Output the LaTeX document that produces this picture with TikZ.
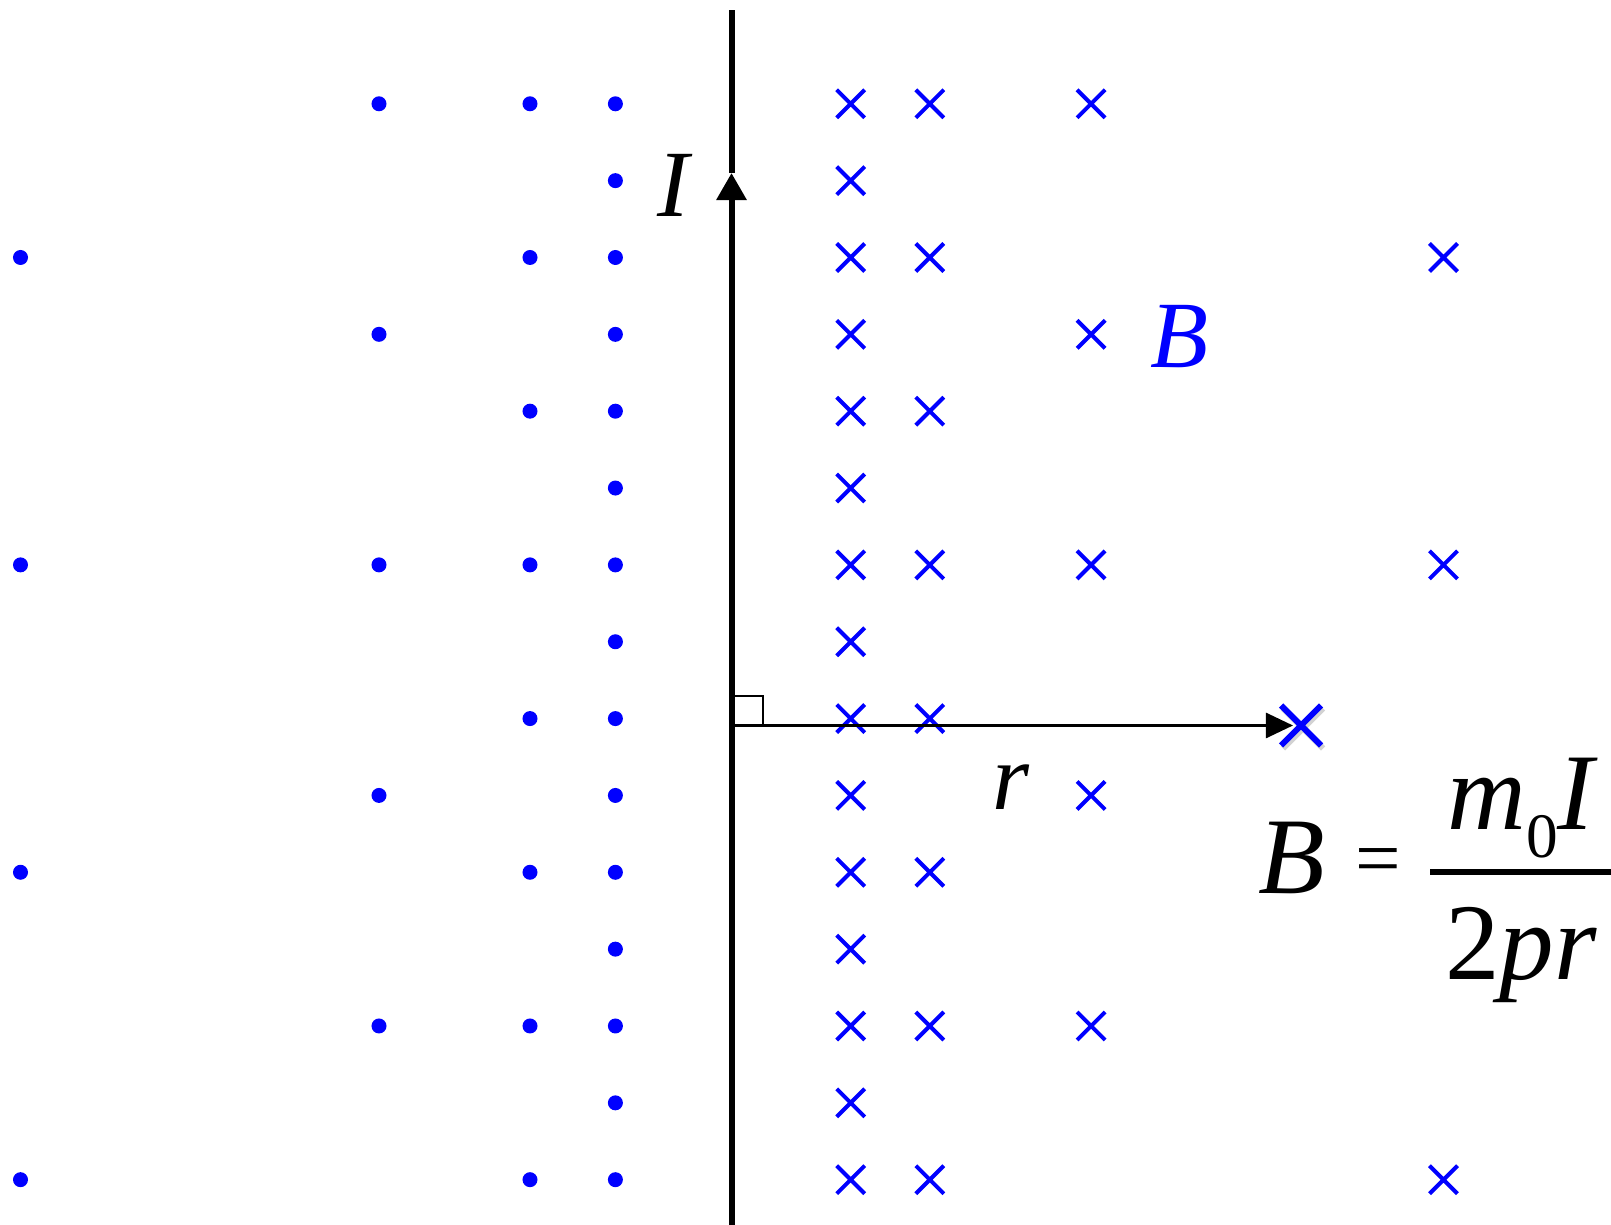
\documentclass[tikz,border=0pt]{standalone}
\usepackage{fontspec}
\setmainfont{Liberation Serif}
\usetikzlibrary{arrows.meta}
\definecolor{fieldblue}{RGB}{0,0,255}
\tikzset{
  wire/.style={line width=0.06cm, black},
  fdot/.style={fill=fieldblue},
  fcross/.style={draw=fieldblue, line width=0.04cm},
  lbl/.style={inner sep=0pt, anchor=base, font=\fontsize{27}{27}\selectfont\itshape},
  eqn/.style={inner sep=0pt, anchor=base, font=\fontsize{31}{31}\selectfont},
}
\begin{document}
\begin{tikzpicture}[x=0.01cm,y=-0.01cm]
\useasboundingbox (0,0) rectangle (1611,1225);
% field out of the page (left of the wire)
\foreach \k in {0,...,14} \fill[fdot] (615.4,103.8+76.85*\k) circle (0.075cm);
\foreach \k in {0,2,...,14} \fill[fdot] (530,103.8+76.85*\k) circle (0.075cm);
\foreach \k in {0,3,...,12} \fill[fdot] (379,103.8+76.85*\k) circle (0.075cm);
\foreach \k in {2,6,10,14} \fill[fdot] (20.5,103.8+76.85*\k) circle (0.075cm);
% field into the page (right of the wire)
\foreach \k in {0,...,14}
  \draw[fcross] (850.7,103.8+76.85*\k) +(-14,-14) -- +(14,14) +(-14,14) -- +(14,-14);
\foreach \k in {0,2,...,14}
  \draw[fcross] (929.8,103.8+76.85*\k) +(-14,-14) -- +(14,14) +(-14,14) -- +(14,-14);
\foreach \k in {0,3,...,12}
  \draw[fcross] (1091.1,103.8+76.85*\k) +(-14,-14) -- +(14,14) +(-14,14) -- +(14,-14);
\foreach \k in {2,6,14}
  \draw[fcross] (1443.5,103.8+76.85*\k) +(-14,-14) -- +(14,14) +(-14,14) -- +(14,-14);
% wire with current
\coordinate (wbot) at (731.5,1225);
\coordinate (wtop) at (731.5,10);
\coordinate (itip) at (731.5,173);
\draw[wire,-{Triangle[length=0.27cm,width=0.29cm]}] (wbot) -- (itip);
\draw[wire] (itip) -- (wtop);
% distance r
\coordinate (o) at (731.5,725.5);
\coordinate (p) at (1301,725.5);
\draw[line width=0.027cm,-{Triangle[length=0.27cm,width=0.25cm]}] (o) -- ([xshift=-0.08cm]p);
\draw[line width=0.015cm] (735,696) -- (763,696) -- (763,725.5);
\draw[gray!70,line width=0.06cm,opacity=0.5] ([shift={(2,3)}]p) +(-20,-20) -- +(20,20) +(-20,20) -- +(20,-20);
\draw[fieldblue,line width=0.06cm] (p) +(-20,-20) -- +(20,20) +(-20,20) -- +(20,-20);
% labels
\node[lbl] (lblI) at (673,217) {I};
\node[lbl, text=fieldblue] (lblB) at (1179,368) {B};
\node[lbl] (lblr) at (1011,810) {r};
% formula
\node[eqn] (eqB) at (1292,894) {\textit{B}};
\node[eqn, anchor=center, font=\fontsize{23}{23}\selectfont] (eqeq) at (1378,867) {=};
\node[eqn] (num) at (1523,830) {\textit{m}\raisebox{-0.27cm}{\fontsize{18}{18}\selectfont 0}\textit{I}};
\node[eqn] (den) at (1521,980) {2\textit{pr}};
\draw[line width=0.06cm] (1430,872) -- (1614,872);
\end{tikzpicture}
\end{document}
